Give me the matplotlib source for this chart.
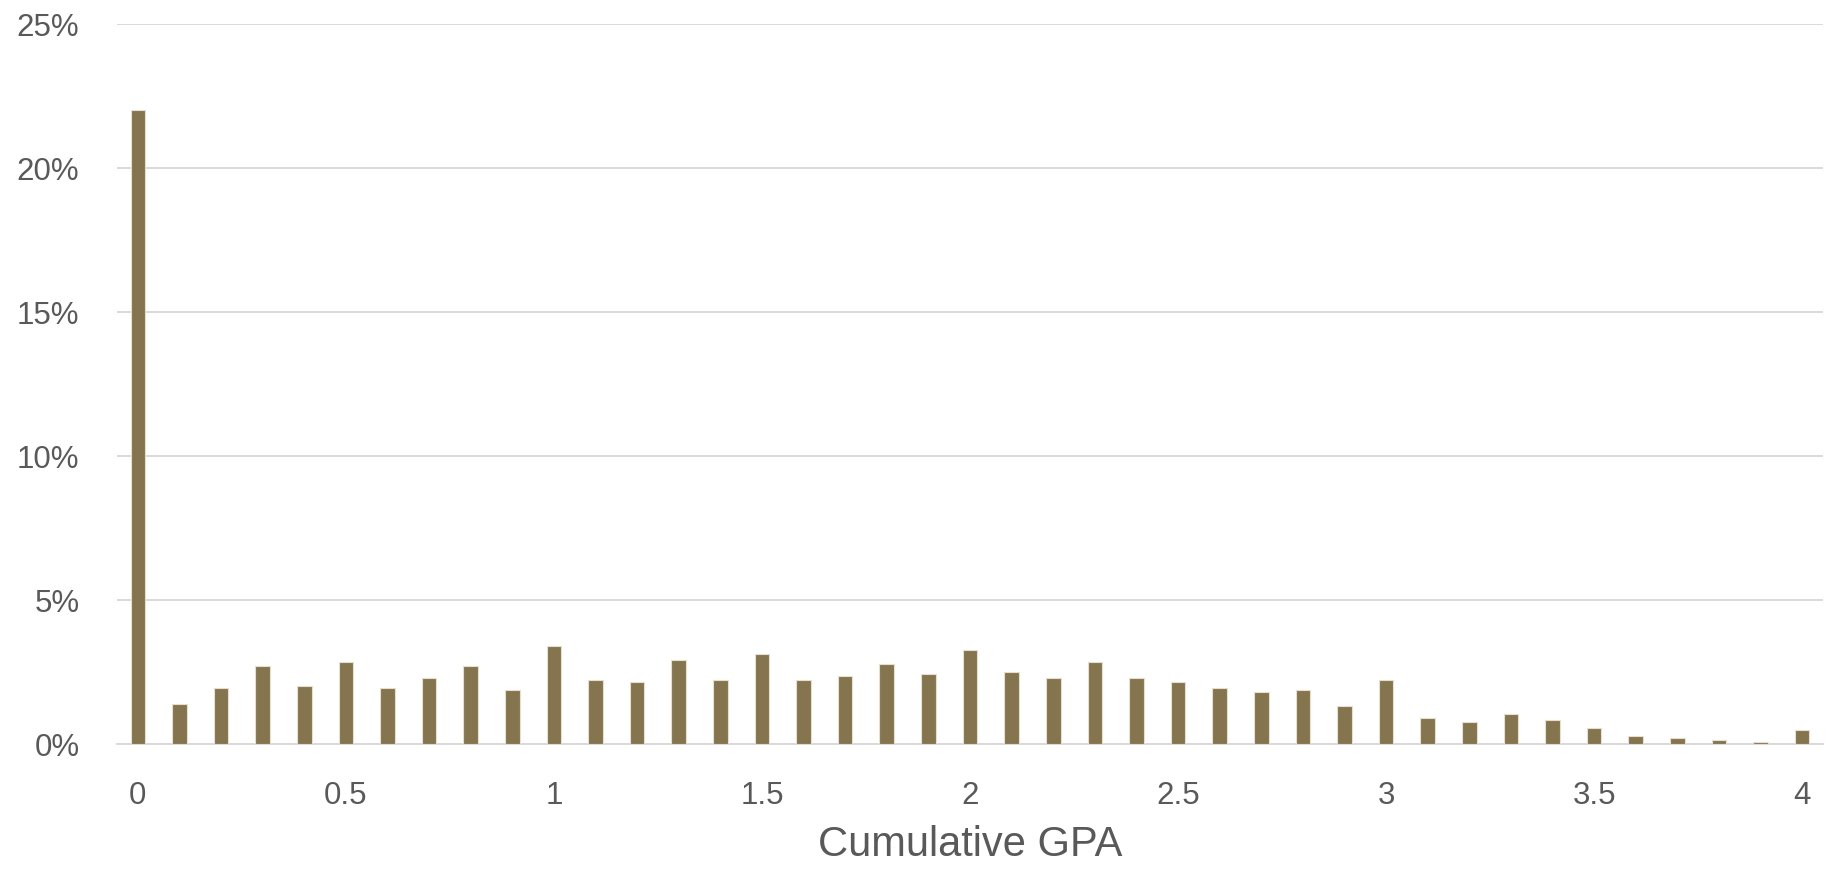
import matplotlib
matplotlib.use("Agg")
import matplotlib.pyplot as plt
from matplotlib.ticker import FuncFormatter

plt.rcParams['font.family'] = ['Liberation Sans', 'DejaVu Sans']

gpa = [round(i * 0.1, 1) for i in range(41)]
share = [22.0, 1.40, 1.96, 2.72, 2.03, 2.86, 1.96, 2.30, 2.72, 1.89,
         3.41, 2.23, 2.16, 2.93, 2.23, 3.14, 2.23, 2.37, 2.79, 2.44,
         3.28, 2.51, 2.30, 2.86, 2.30, 2.16, 1.96, 1.82, 1.89, 1.33,
         2.23, 0.91, 0.78, 1.05, 0.84, 0.57, 0.29, 0.22, 0.15, 0.08,
         0.50]
xtick_vals = [0, 0.5, 1, 1.5, 2, 2.5, 3, 3.5, 4]
xtick_labels = ["0", "0.5", "1", "1.5", "2", "2.5", "3", "3.5", "4"]
ytick_vals = [0, 5, 10, 15, 20, 25]

fig = plt.figure(figsize=(18.32, 8.73), dpi=100)
ax = fig.add_axes([117/1832, 129/873, 1706/1832, 720/873])

ax.bar(gpa, share, width=0.035, color="#85754E", edgecolor="#E6DFCF",
       linewidth=0.8, zorder=3)

ax.set_xlim(-0.05, 4.05)
ax.set_ylim(0, 25)
ax.set_yticks(ytick_vals)
ax.yaxis.set_major_formatter(FuncFormatter(lambda v, p: f"{int(v)}%"))
ax.set_xticks(xtick_vals)
ax.set_xticklabels(xtick_labels)

ax.grid(axis='y', color="#D9D9D9", linewidth=1.4, zorder=0)
ax.grid(axis='x', visible=False)
for s in ['top', 'right', 'left']:
    ax.spines[s].set_visible(False)
ax.spines['bottom'].set_color("#D9D9D9")
ax.spines['bottom'].set_linewidth(1.4)
ax.tick_params(axis='both', length=0, labelsize=22.5, colors="#595959")
ax.tick_params(axis='x', pad=27)
ax.tick_params(axis='y', pad=27)

ax.set_xlabel("Cumulative GPA", fontsize=30, color="#595959", labelpad=10)

fig.savefig("out.png", dpi=100, facecolor="white")
